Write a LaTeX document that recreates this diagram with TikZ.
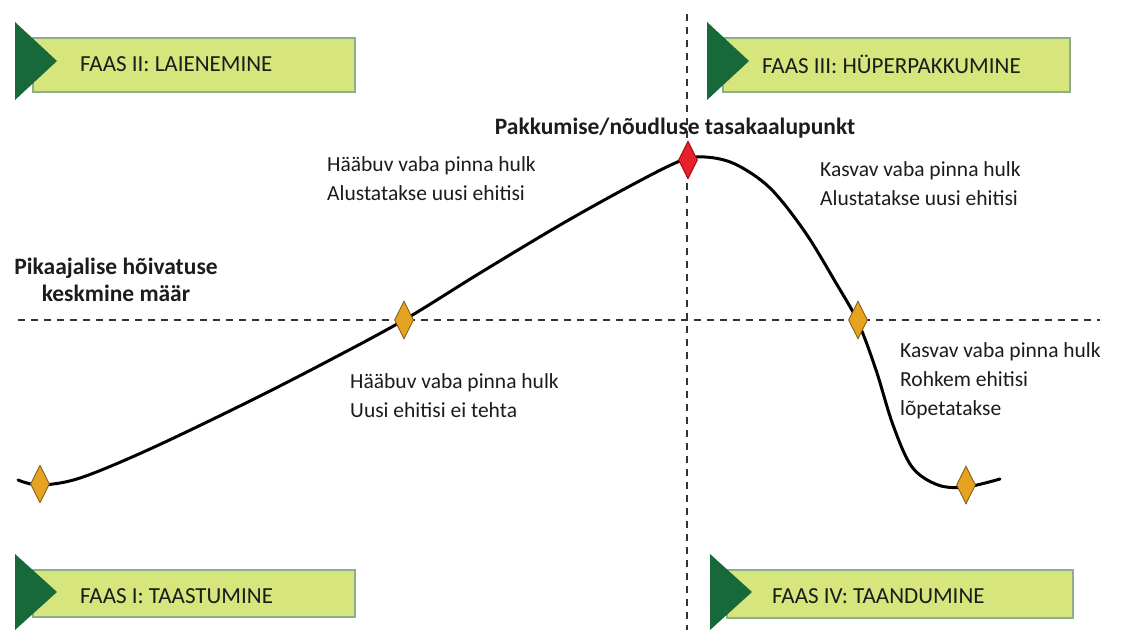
\documentclass[tikz,border=0pt]{standalone}
\usepackage{fontspec}
\setmainfont{Carlito}
\usetikzlibrary{shapes.geometric}
\definecolor{bannerfill}{HTML}{D6E57C}
\definecolor{bannerline}{HTML}{8DAE8C}
\definecolor{triag}{HTML}{17693A}
\definecolor{orangefill}{HTML}{E6A321}
\definecolor{orangeline}{HTML}{7A5410}
\definecolor{redfill}{HTML}{E8202A}
\definecolor{txt}{HTML}{1C1C1C}
\tikzset{
  dashline/.style={line width=1.6pt, dash pattern=on 7pt off 6pt, black!80},
  banner/.style={draw=bannerline, line width=1.2pt, fill=bannerfill},
  tri/.style={fill=triag},
  bannertext/.style={anchor=west, font=\fontsize{23}{25}\selectfont, text=txt, inner sep=0pt},
  lbl/.style={anchor=north west, align=left, font=\fontsize{21.5}{29}\selectfont, text=txt, inner sep=0pt},
  blbl/.style={align=center, font=\bfseries\fontsize{23.5}{27}\selectfont, text=txt, inner sep=0pt},
  odia/.style={diamond, draw=orangeline, line width=0.8pt, fill=orangefill, minimum width=19pt, minimum height=38pt, inner sep=0pt, aspect=0.5},
  rdia/.style={diamond, draw=red!60!black, line width=0.8pt, fill=redfill, minimum width=19pt, minimum height=38pt, inner sep=0pt, aspect=0.5},
  curve/.style={line width=3pt, black, line cap=round}
}
\begin{document}
\begin{tikzpicture}[x=1pt,y=-1pt]
\useasboundingbox (0,0) rectangle (1136,630);
\fill[white] (0,0) rectangle (1136,630);
% dashed axes
\coordinate (vtop) at (687,14);
\coordinate (vbot) at (687,630);
\coordinate (hl) at (18,320);
\coordinate (hr) at (1100,320);
\draw[dashline] (vtop) -- (vbot);
\draw[dashline] (hl) -- (hr);
% banners
\draw[banner] (33,38) rectangle (355,92);
\fill[tri] (15,22) -- (57,61) -- (15,100) -- cycle;
\node[bannertext] (f2) at (80,64) {FAAS II: LAIENEMINE};
\draw[banner] (723,38) rectangle (1070,92);
\fill[tri] (707,22) -- (749,61) -- (707,100) -- cycle;
\node[bannertext] (f3) at (762,64) {FAAS III: HÜPERPAKKUMINE};
\draw[banner] (33,570) rectangle (355,617);
\fill[tri] (15,554) -- (57,592) -- (15,630) -- cycle;
\node[bannertext] (f1) at (80,596) {FAAS I: TAASTUMINE};
\draw[banner] (727,570) rectangle (1073,618);
\fill[tri] (710,554) -- (752,592) -- (710,630) -- cycle;
\node[bannertext] (f4) at (772,596) {FAAS IV: TAANDUMINE};
% curve
\draw[curve] plot[smooth, tension=0.55] coordinates {(18,480) (40,485) (80,478) (150,449) (250,401) (330,360) (404,320) (480,273) (560,225) (630,186) (680,161) (705,157) (735,164) (770,188) (805,232) (836,283) (858,322) (876,370) (893,425) (912,467) (938,485) (966,487) (1000,479)};
% diamonds
\node[odia] (d1) at (40,484) {};
\node[odia] (d2) at (404,320) {};
\node[rdia] (d3) at (688,160) {};
\node[odia] (d4) at (858,320) {};
\node[odia] (d5) at (966,485) {};
% labels
\node[blbl] (eq) at (675,128) {Pakkumise/nõudluse tasakaalupunkt};
\node[blbl] (avg) at (116,280) {Pikaajalise hõivatuse\\keskmine määr};
\node[lbl] (t1) at (327,156) {Hääbuv vaba pinna hulk\\Alustatakse uusi ehitisi};
\node[lbl] (t2) at (820,161) {Kasvav vaba pinna hulk\\Alustatakse uusi ehitisi};
\node[lbl] (t3) at (350,373) {Hääbuv vaba pinna hulk\\Uusi ehitisi ei tehta};
\node[lbl] (t4) at (900,342) {Kasvav vaba pinna hulk\\Rohkem ehitisi\\lõpetatakse};
\end{tikzpicture}
\end{document}
